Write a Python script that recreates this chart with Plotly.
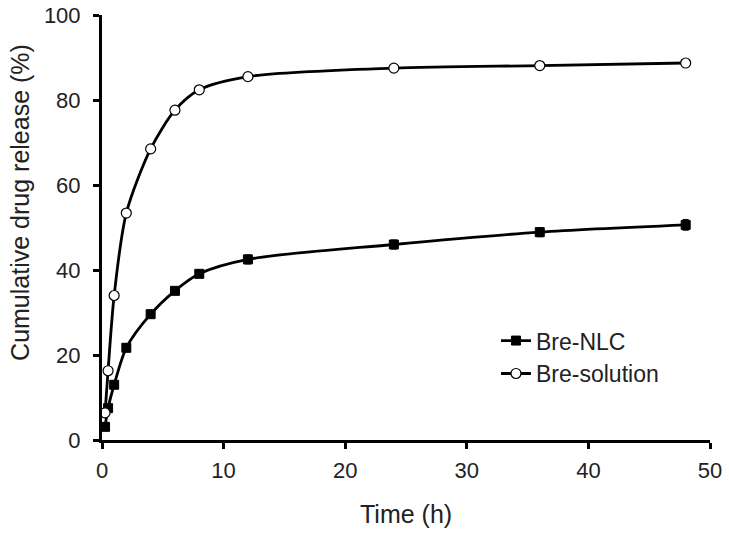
import plotly.graph_objects as go

time_h = [0.25, 0.5, 1, 2, 4, 6, 8, 12, 24, 36, 48]
bre_nlc = [3.1, 7.5, 13.0, 21.7, 29.6, 35.1, 39.1, 42.5, 46.0, 48.9, 50.6]
bre_nlc_err = [0.6, 0.6, 0.8, 0.9, 0.8, 0.7, 0.8, 1.0, 1.0, 1.0, 1.2]
bre_solution = [6.4, 16.3, 34.0, 53.4, 68.5, 77.6, 82.4, 85.5, 87.5, 88.1, 88.7]
bre_solution_err = [0.5, 0.6, 0.6, 0.6, 0.6, 0.5, 0.5, 0.5, 0.5, 0.5, 0.6]

x_ticks = [0, 10, 20, 30, 40, 50]
y_ticks = [0, 20, 40, 60, 80, 100]

font_family = "Liberation Sans, Arial, sans-serif"
text_color = "#222222"

fig = go.Figure()
fig.add_trace(go.Scatter(
    x=time_h, y=bre_nlc, name="Bre-NLC", mode="lines+markers",
    line=dict(color="black", width=2.8, shape="spline", smoothing=0.8),
    marker=dict(symbol="square", size=9, color="black", line=dict(color="black", width=1)),
    error_y=dict(type="data", array=bre_nlc_err, color="black", thickness=1.5, width=3),
))
fig.add_trace(go.Scatter(
    x=time_h, y=bre_solution, name="Bre-solution", mode="lines+markers",
    line=dict(color="black", width=2.8, shape="spline", smoothing=0.8),
    marker=dict(symbol="circle", size=10, color="white", line=dict(color="black", width=1.2)),
    error_y=dict(type="data", array=bre_solution_err, color="black", thickness=1.5, width=3),
))

fig.update_layout(
    width=729, height=533,
    paper_bgcolor="white", plot_bgcolor="white",
    margin=dict(l=102, r=19, t=15, b=93),
    font=dict(family=font_family, size=22, color=text_color),
    showlegend=True,
    legend=dict(x=0.648, y=0.195, xanchor="left", yanchor="middle",
                bgcolor="rgba(0,0,0,0)", font=dict(size=23), itemwidth=30,
                tracegroupgap=0),
    annotations=[
        dict(text="Cumulative drug release (%)", xref="paper", yref="paper",
             x=-0.135, y=0.56, textangle=-90, showarrow=False,
             xanchor="center", yanchor="middle", font=dict(size=25)),
        dict(text="Time (h)", xref="paper", yref="paper",
             x=0.5, y=-0.174, showarrow=False,
             xanchor="center", yanchor="middle", font=dict(size=25)),
    ],
)
fig.update_xaxes(
    range=[0, 50], tickvals=x_ticks, ticks="outside", ticklen=6, tickwidth=2.5,
    showline=True, linewidth=3, linecolor="black", tickcolor="black",
    showgrid=False, zeroline=False, automargin=False, ticklabelstandoff=3,
)
fig.update_yaxes(
    range=[0, 100], tickvals=y_ticks, ticks="outside", ticklen=6, tickwidth=2.5,
    showline=True, linewidth=3, linecolor="black", tickcolor="black",
    showgrid=False, zeroline=False, automargin=False, ticklabelstandoff=8,
)

fig.write_html(
    "out.html",
    config={"displayModeBar": False},
    post_script="document.body.style.margin='0';document.body.style.overflow='hidden';",
)
